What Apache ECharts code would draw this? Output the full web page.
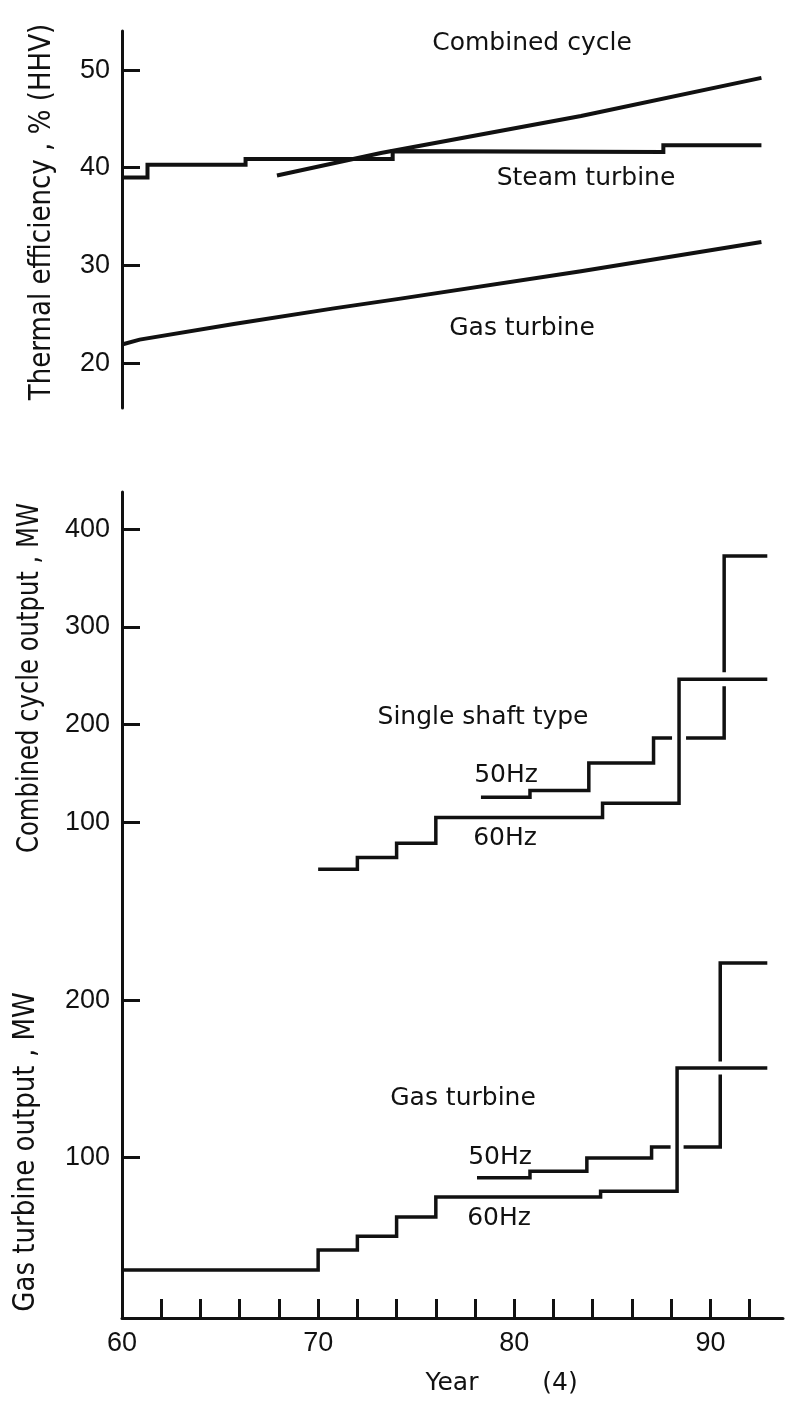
<!DOCTYPE html>
<html>
<head>
<meta charset="utf-8">
<script src="https://cdn.jsdelivr.net/npm/echarts@6/dist/echarts.min.js"></script>
<style>
html, body { margin: 0; padding: 0; background: #fff; }
#chart { width: 795px; height: 1415px; }
</style>
</head>
<body>
<div id="chart"></div>
<script>
// thermal efficiency, % (HHV)
const ccEffYears = [67.9, 73.2, 83.4, 92.6]
const ccEff = [39.2, 41.5, 45.3, 49.2]
const steamYears = [60, 61.3, 61.3, 66.3, 66.3, 73.8, 73.8, 87.6, 87.6, 92.6]
const steamEff = [39.0, 39.0, 40.3, 40.3, 40.9, 40.9, 41.7, 41.6, 42.3, 42.3]
const gtEffYears = [60, 60.9, 65.7, 70.8, 74.2, 83.4, 92.6]
const gtEff = [21.9, 22.4, 24.0, 25.6, 26.6, 29.4, 32.4]

// combined cycle output, MW (year of each step, level after it)
const cc60Years = [70, 72, 74, 76, 84.5, 88.4, 92.9]
const cc60Mw = [52, 64, 78.5, 105, 119.5, 246.5]
const cc50Years = [78.3, 80.8, 83.8, 87.1, 90.7, 92.9]
const cc50Mw = [125.6, 132.5, 160.6, 186.2, 372.6]

// gas turbine output, MW
const gt60Years = [60, 70, 72, 74, 76, 84.4, 88.3, 92.9]
const gt60Mw = [28, 40.8, 49.5, 61.8, 74.5, 78.3, 156.7]
const gt50Years = [78.1, 80.8, 83.7, 87.0, 90.5, 92.9]
const gt50Mw = [86.8, 91, 99.4, 106.4, 223.6]

const effTicks = [20, 30, 40, 50]
const ccTicks = [100, 200, 300, 400]
const gtTicks = [100, 200]
const yearTicks = [62, 64, 66, 68, 70, 72, 74, 76, 78, 80, 82, 84, 86, 88, 90, 92]
const yearLabels = [60, 70, 80, 90]

const font = '"DejaVu Sans", sans-serif'
const numFont = '"Liberation Sans", Arial, sans-serif'
const ink = '#111'

const zip = (xs, ys) => xs.map((x, i) => [x, ys[i]])
// staircase: each level runs from its year to the next one
const stepPoints = (xs, ys) => {
    const pts = []
    ys.forEach((y, i) => { pts.push([xs[i], y], [xs[i + 1], y]) })
    return pts
}

const line = (data, idx, z, width, color) => ({
    type: 'line',
    xAxisIndex: idx,
    yAxisIndex: idx,
    data,
    symbol: 'none',
    silent: true,
    z,
    lineStyle: { color: color || ink, width, cap: 'butt', join: 'miter' },
})

const hiddenX = (idx) => ({ type: 'value', gridIndex: idx, min: 60, max: 93.7, show: false })

const yAxis = (idx, min, max, ticks) => ({
    type: 'value',
    gridIndex: idx,
    min,
    max,
    axisLine: { show: true, onZero: false, lineStyle: { color: ink, width: 3 } },
    axisTick: { show: true, inside: true, length: 18, customValues: ticks, lineStyle: { color: ink, width: 3 } },
    axisLabel: { customValues: ticks, color: ink, fontSize: 27, fontFamily: numFont, margin: 12 },
    splitLine: { show: false },
})

const txt = (text, x, y, size, rotation, scaleX) => ({
    type: 'text',
    x,
    y,
    rotation: rotation || 0,
    scaleX: scaleX || 1,
    silent: true,
    style: { text, fontSize: size, fontFamily: font, fill: ink, align: 'center', verticalAlign: 'middle' },
})

const chart = echarts.init(document.getElementById('chart'))

const option = {
    backgroundColor: '#fff',
    animation: false,
    grid: [
        { left: 122, right: 12, top: 31, height: 377 },
        { left: 122, right: 12, top: 492, height: 428 },
        { left: 122, right: 12, top: 920, height: 398 },
    ],
    xAxis: [
        hiddenX(0),
        hiddenX(1),
        {
            type: 'value',
            gridIndex: 2,
            min: 60,
            max: 93.7,
            axisLine: { onZero: false, lineStyle: { color: ink, width: 3 } },
            axisTick: { inside: true, length: 19, customValues: yearTicks, lineStyle: { color: ink, width: 3 } },
            axisLabel: { customValues: yearLabels, color: ink, fontSize: 27, fontFamily: numFont, margin: 12 },
            splitLine: { show: false },
        },
    ],
    yAxis: [
        yAxis(0, 15.4, 54, effTicks),
        yAxis(1, 0, 438, ccTicks),
        yAxis(2, -2.5, 251, gtTicks),
    ],
    series: [
        line(zip(ccEffYears, ccEff), 0, 2, 4),
        line(zip(steamYears, steamEff), 0, 2, 4),
        line(zip(gtEffYears, gtEff), 0, 2, 4),

        line(stepPoints(cc50Years, cc50Mw), 1, 2, 3.5),
        // white band so the 60Hz line breaks the lines it crosses
        line(stepPoints(cc60Years, cc60Mw).slice(-3), 1, 3, 14, '#fff'),
        line(stepPoints(cc60Years, cc60Mw), 1, 4, 3.5),

        line(stepPoints(gt50Years, gt50Mw), 2, 2, 3.5),
        line(stepPoints(gt60Years, gt60Mw).slice(-3), 2, 3, 13, '#fff'),
        line(stepPoints(gt60Years, gt60Mw), 2, 4, 3.5),
    ],
    graphic: [
        txt('Thermal efficiency , % (HHV)', 42, 212, 30, Math.PI / 2, 0.87),
        txt('Combined cycle output , MW', 30, 678, 30, Math.PI / 2, 0.81),
        txt('Gas turbine output , MW', 26, 1152, 30, Math.PI / 2, 0.87),

        txt('Combined cycle', 532, 43, 25),
        txt('Steam turbine', 586, 178, 25),
        txt('Gas turbine', 522, 328, 25),

        txt('Single shaft type', 483, 717, 25),
        txt('50Hz', 506, 775, 25),
        txt('60Hz', 505, 838, 25),

        txt('Gas turbine', 463, 1098, 25),
        txt('50Hz', 500, 1157, 25),
        txt('60Hz', 499, 1218, 25),

        txt('Year', 452, 1383, 25),
        txt('(4)', 560, 1383, 25),
    ],
}

chart.setOption(option)
</script>
</body>
</html>
